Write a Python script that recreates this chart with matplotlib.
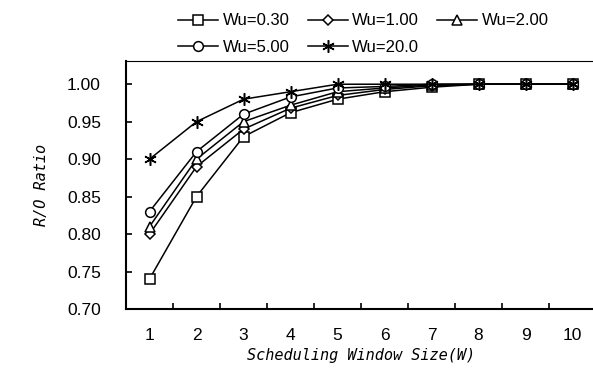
import matplotlib
matplotlib.use("Agg")
import matplotlib.pyplot as plt

# scheduling window size W
window = [1, 2, 3, 4, 5, 6, 7, 8, 9, 10]

# R/O ratio for each Wu
wu_030 = [0.74, 0.85, 0.93, 0.962, 0.98, 0.99, 0.996, 1.0, 1.0, 1.0]
wu_100 = [0.80, 0.89, 0.94, 0.968, 0.985, 0.993, 0.998, 1.0, 1.0, 1.0]
wu_200 = [0.81, 0.90, 0.95, 0.972, 0.99, 0.995, 0.999, 1.0, 1.0, 1.0]
wu_500 = [0.83, 0.91, 0.96, 0.983, 0.995, 0.997, 1.0, 1.0, 1.0, 1.0]
wu_2000 = [0.90, 0.95, 0.98, 0.99, 1.0, 1.0, 1.0, 1.0, 1.0, 1.0]

labels = ["Wu=0.30", "Wu=1.00", "Wu=2.00", "Wu=5.00", "Wu=20.0"]
yticks = [0.70, 0.75, 0.80, 0.85, 0.90, 0.95, 1.00]

plt.rcParams['font.family'] = ['Liberation Sans', 'DejaVu Sans']

fig = plt.figure(figsize=(5.93, 3.76), dpi=100)
ax = fig.add_axes([126/593, 67/376, 470/593, 248/376])

series = [wu_030, wu_100, wu_200, wu_500, wu_2000]
markers = ['s', 'D', '^', 'o', (6, 2, 0)]
sizes = [7, 5.5, 7, 7, 9]
handles = []
for vals, m, ms, lab in zip(series, markers, sizes, labels):
   h, = ax.plot(window, vals, color='black', lw=1.1, marker=m, ms=ms,
                mfc='white', mec='black', mew=1.1, label=lab)
   handles.append(h)

ax.set_xlim(0.5, 10.5)
ax.set_ylim(0.70, 1.031)
ax.set_xticks(window)
ax.set_xticks([w + 0.5 for w in window[:-1]], minor=True)
ax.set_yticks(yticks)
ax.set_yticklabels(['%.2f' % v for v in yticks])
ax.tick_params(axis='x', which='major', length=0, pad=14, labelsize=12.5)
ax.tick_params(axis='x', which='minor', direction='in', length=4, width=1.2)
ax.tick_params(axis='y', direction='in', length=4, width=1.2, pad=18, labelsize=12.5)

ax.spines['right'].set_visible(False)
ax.spines['left'].set_linewidth(1.5)
ax.spines['bottom'].set_linewidth(1.5)
ax.spines['top'].set_linewidth(0.8)

ax.set_xlabel('Scheduling Window Size(W)', fontsize=11, style='italic', labelpad=3,
              family='DejaVu Sans Mono')
ax.set_ylabel('R/O Ratio', fontsize=11, style='italic', labelpad=13,
              family='DejaVu Sans Mono')

# legend is filled column by column, so reorder to get rows 0.30/1.00/2.00 and 5.00/20.0
order = [0, 3, 1, 4, 2]
fig.legend([handles[i] for i in order], [labels[i] for i in order],
           loc='center', bbox_to_anchor=(0.613, 0.909), ncol=3, frameon=False,
           fontsize=12, handlelength=2.4, handletextpad=0.25, columnspacing=1.1,
           labelspacing=0.7)

fig.savefig('out.png', dpi=100)
